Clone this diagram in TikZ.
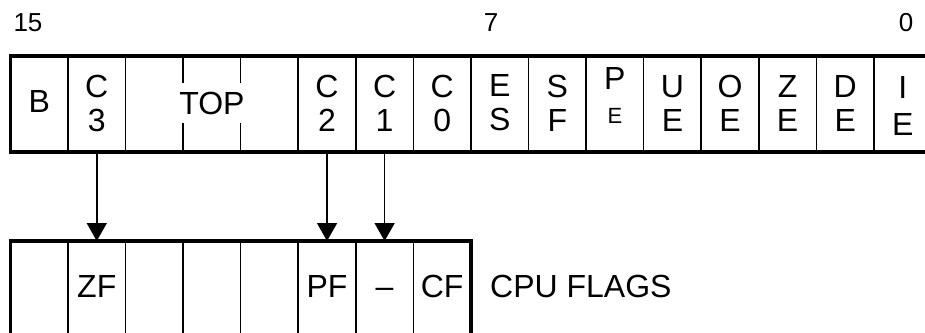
\documentclass[tikz,border=0pt]{standalone}
\usepackage{fontspec}
\setmainfont{Liberation Sans}
\usetikzlibrary{arrows.meta}
\begin{document}
\begin{tikzpicture}[x=1pt,y=-1pt,
  cell/.style={draw, rectangle, line width=1.6pt, minimum width=57.57pt,
    minimum height=96pt, inner sep=0pt, outer sep=0pt, anchor=north west},
  frame/.style={line width=3.4pt, line cap=rect, line join=miter},
  tick/.style={line width=1.6pt},
  lbl/.style={inner sep=0pt, align=center, font=\fontsize{32}{34}\selectfont},
  flag/.style={inner sep=0pt, anchor=base, font=\fontsize{32}{34}\selectfont},
  small/.style={inner sep=0pt, font=\fontsize{22}{22}\selectfont},
  bitno/.style={inner sep=0pt, font=\fontsize{26}{26}\selectfont},
  arr/.style={line width=1.6pt, -{Triangle[length=18pt,width=20pt]}}]
\useasboundingbox (0,0) rectangle (925,332);
\clip (0,0) rectangle (925,332);

% bit numbers
\node[bitno] (n15) at (28,23) {15};
\node[bitno] (n7) at (491,23) {7};
\node[bitno] (n0) at (906,23) {0};

% FPU status word cells (t0 = bit 15 ... t15 = bit 0)
\foreach \i in {0,1,5,6,...,15}
  \node[cell] (t\i) at ({10.4+57.57*\i},56) {};
\node[cell, minimum width=172.71pt] (ttop) at ({10.4+57.57*2},56) {};
\draw[tick] (ttop.north west) ++(57.57,0) -- ++(0,27);
\draw[tick] (ttop.north west) ++(115.14,0) -- ++(0,27);
\draw[tick] (ttop.south west) ++(57.57,0) -- ++(0,-29);
\draw[tick] (ttop.south west) ++(115.14,0) -- ++(0,-29);
\draw[frame] (t15.north east) -- (t0.north west) -- (t0.south west) -- (t15.south east);

% status word labels
\node[lbl, yshift=2.5pt] (lb) at (t0.center) {B};
\node[lbl, yshift=1pt] (lc3) at (t1.center) {C\\3};
\node[lbl, yshift=0.5pt] (ltop) at (ttop.center) {TOP};
\node[lbl, yshift=1pt] (lc2) at (t5.center) {C\\2};
\node[lbl, yshift=1pt] (lc1) at (t6.center) {C\\1};
\node[lbl, yshift=1pt] (lc0) at (t7.center) {C\\0};
\node[lbl, yshift=1pt] (les) at (t8.center) {E\\S};
\node[lbl, yshift=1pt] (lsf) at (t9.center) {S\\F};
\node[lbl] (lp) at ([yshift=26pt]t10.center) {P};
\node[small] (lpe) at ([yshift=-12pt]t10.center) {E};
\node[lbl, yshift=1pt] (lue) at (t11.center) {U\\E};
\node[lbl, yshift=1pt] (loe) at (t12.center) {O\\E};
\node[lbl, yshift=1pt] (lze) at (t13.center) {Z\\E};
\node[lbl, yshift=1pt] (lde) at (t14.center) {D\\E};
\node[lbl, font=\fontsize{32}{37}\selectfont, yshift=-1.5pt] (lie) at (t15.center) {I\\E};

% CPU flags cells
\foreach \i in {0,...,7}
  \node[cell, minimum height=120pt] (b\i) at ({10.4+57.57*\i},241) {};
\draw[frame] (b0.south west) -- (b0.north west) -- (b7.north east) -- (b7.south east);

\node[flag] (lzf) at (b1.center |- 0,297) {ZF};
\node[flag] (lpf) at (b5.center |- 0,297) {PF};
\node[flag] (lnone) at (b6.center |- 0,297) {–};
\node[flag] (lcf) at (b7.center |- 0,297) {CF};
\node[flag, anchor=base west] (cpu) at (490,297) {CPU FLAGS};

% condition code bits copied into the CPU flags
\draw[arr] (t1.south) -- (b1.north);
\draw[arr] (t5.south) -- (b5.north);
\draw[arr] (t6.south) -- (b6.north);
\end{tikzpicture}
\end{document}
